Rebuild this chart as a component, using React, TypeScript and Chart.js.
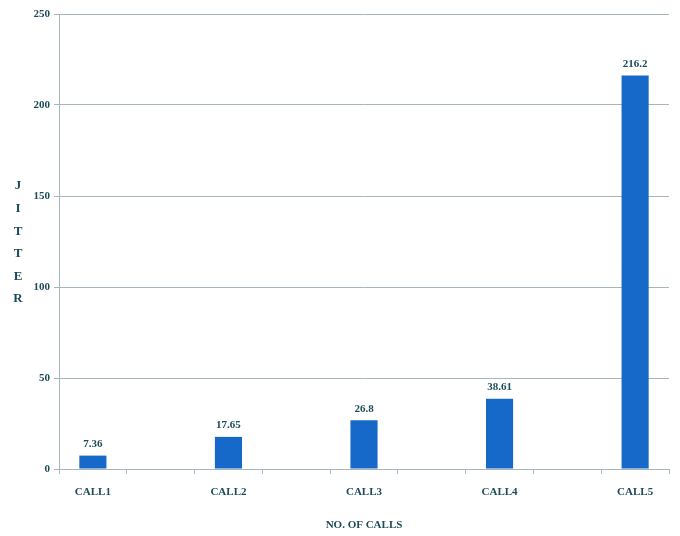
import React, { useEffect, useRef } from "react";
import { Chart, registerables } from "chart.js";

Chart.register(...registerables);

const categories = ["CALL1", "CALL2", "CALL3", "CALL4", "CALL5"];
const jitterValues = [7.36, 17.65, 26.8, 38.61, 216.2];
const valueLabels = ["7.36", "17.65", "26.8", "38.61", "216.2"];
const yTicks = [0, 50, 100, 150, 200, 250];
const yTitleLetters = ["J", "I", "T", "T", "E", "R"];
const xTitle = "NO. OF CALLS";

const TEXT = "#1c4b5b";
const BAR = "#1769c9";
const GRID = "#a7b5bd";
const FONT = "'Liberation Serif', serif";

// Excel-style layout: each call separated by an empty category slot
const slotLabels: string[] = [];
const slotValues: (number | null)[] = [];
const slotText: (string | null)[] = [];
categories.forEach((c, i) => {
  if (i > 0) {
    slotLabels.push("");
    slotValues.push(null);
    slotText.push(null);
  }
  slotLabels.push(c);
  slotValues.push(jitterValues[i]);
  slotText.push(valueLabels[i]);
});

const overlayPlugin = {
  id: "overlay",
  afterDatasetsDraw(chart: any) {
    const ctx = chart.ctx;
    const meta = chart.getDatasetMeta(0);
    ctx.save();
    ctx.fillStyle = TEXT;
    ctx.font = `bold 11px ${FONT}`;
    ctx.textAlign = "center";
    ctx.textBaseline = "bottom";
    meta.data.forEach((el: any, i: number) => {
      const t = slotText[i];
      if (t == null) return;
      ctx.fillText(t, el.x, el.y - 6);
    });
    // vertical stacked y-axis title
    ctx.font = `bold 13px ${FONT}`;
    ctx.textBaseline = "middle";
    const x = 18;
    const y0 = 186;
    const step = 22.6;
    yTitleLetters.forEach((l, i) => {
      ctx.fillText(l, x, y0 + i * step);
    });
    ctx.restore();
  },
};

export default function App() {
  const ref = useRef<HTMLCanvasElement | null>(null);
  useEffect(() => {
    if (!ref.current) return;
    const chart = new Chart(ref.current, {
      type: "bar",
      data: {
        labels: slotLabels,
        datasets: [
          {
            data: slotValues as any,
            backgroundColor: BAR,
            borderWidth: 0,
            barPercentage: 0.4,
            categoryPercentage: 1,
          },
        ],
      },
      options: {
        animation: false,
        responsive: false,
        maintainAspectRatio: false,
        layout: { padding: { top: 14, right: 11, bottom: 4, left: 0 } },
        plugins: {
          legend: { display: false },
          tooltip: { enabled: false },
        },
        scales: {
          x: {
            offset: true,
            grid: {
              offset: true,
              drawOnChartArea: false,
              drawTicks: true,
              tickLength: 5,
              color: GRID,
            },
            border: { color: GRID, width: 1 },
            ticks: {
              autoSkip: false,
              maxRotation: 0,
              color: TEXT,
              padding: 12,
              font: { family: FONT, size: 11, weight: "bold" },
            },
            title: {
              display: true,
              text: xTitle,
              color: TEXT,
              padding: 0,
              font: { family: FONT, size: 11, weight: "bold" },
            },
            afterFit(scale: any) {
              scale.height = 63;
            },
          },
          y: {
            min: 0,
            max: 250,
            afterBuildTicks(scale: any) {
              scale.ticks = yTicks.map((v) => ({ value: v }));
            },
            grid: {
              color: GRID,
              drawTicks: true,
              tickLength: 5,
            },
            border: { color: GRID, width: 1 },
            ticks: {
              color: TEXT,
              padding: 4,
              font: { family: FONT, size: 11, weight: "bold" },
            },
            afterFit(scale: any) {
              scale.width = 59;
            },
          },
        },
      },
      plugins: [overlayPlugin],
    });
    return () => chart.destroy();
  }, []);
  return (
    <div style={{ position: "absolute", left: 0, top: 0, width: 680, height: 536, background: "#fff" }}>
      <canvas ref={ref} width={680} height={536} style={{ display: "block" }} />
    </div>
  );
}
